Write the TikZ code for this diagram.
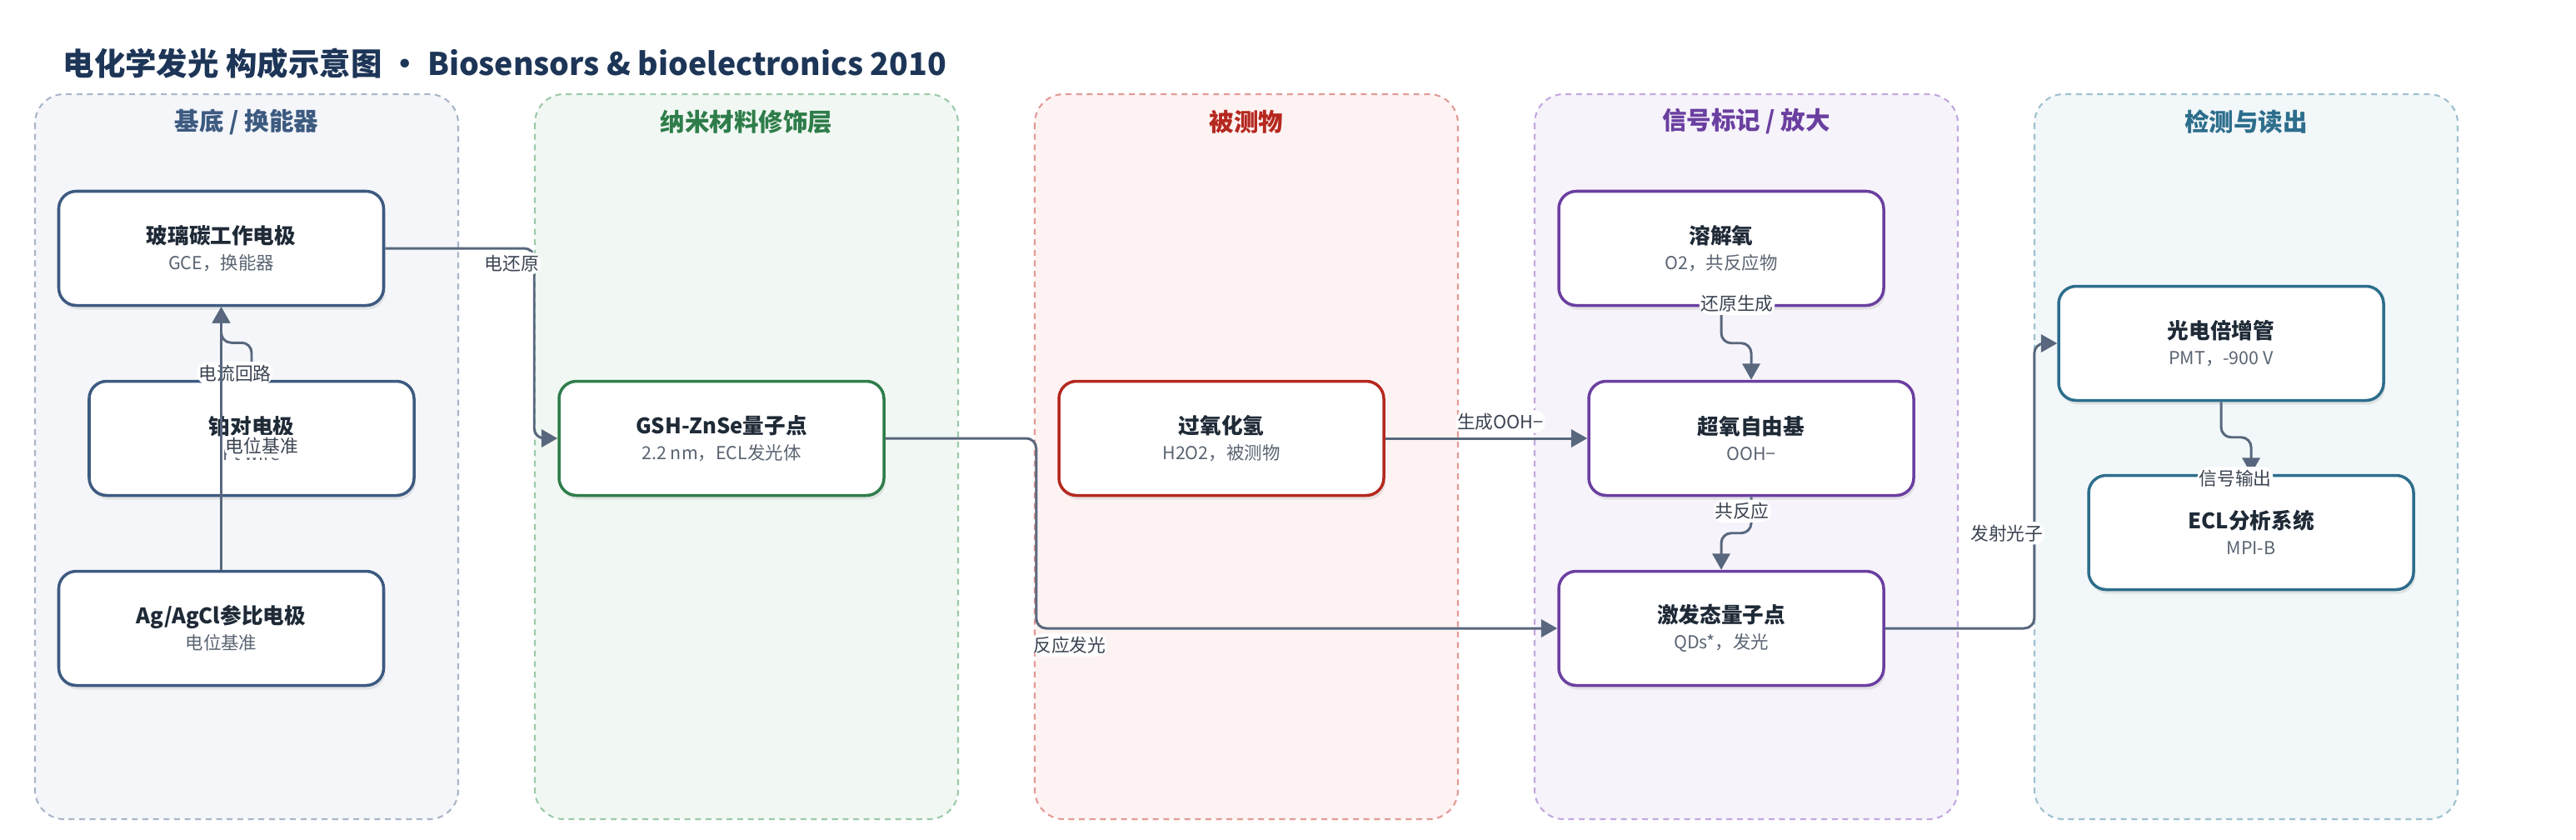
\documentclass[tikz,border=0pt]{standalone}
\usepackage{fontspec}
\setmainfont{Noto Sans CJK SC}
\usetikzlibrary{arrows.meta,shadows}

\definecolor{titleink}{HTML}{1D3557}
\definecolor{nodeink}{HTML}{1F2A37}
\definecolor{subink}{HTML}{5A6472}
\definecolor{labelink}{HTML}{3B4452}
\definecolor{flowgray}{HTML}{58677D}
% lane colours: title / box border / dashed border / fill
\definecolor{inkA}{HTML}{3D5A80}
\definecolor{dashA}{HTML}{A9B6C8}
\definecolor{bgA}{HTML}{F4F6FA}
\definecolor{inkB}{HTML}{2E7D4A}
\definecolor{dashB}{HTML}{9CCAA9}
\definecolor{bgB}{HTML}{F1F8F3}
\definecolor{inkC}{HTML}{B5281F}
\definecolor{dashC}{HTML}{E39A96}
\definecolor{bgC}{HTML}{FDF3F2}
\definecolor{inkD}{HTML}{6B3FA0}
\definecolor{dashD}{HTML}{C3A8DF}
\definecolor{bgD}{HTML}{F6F3FB}
\definecolor{inkE}{HTML}{2D6E8C}
\definecolor{dashE}{HTML}{9FC0CF}
\definecolor{bgE}{HTML}{F2F7F9}

\newcommand{\boxtext}[2]{{\bfseries\color{nodeink}#1}\\{\fontsize{6.1}{8.9}\selectfont\color{subink}#2}}

\begin{document}
\begin{tikzpicture}[
        lane/.style={line width=0.6pt, dash pattern=on 2pt off 1.6pt, rounded corners=0.35cm},
        lanetitle/.style={font=\bfseries\fontsize{8.4}{10}\selectfont, text=#1},
        box/.style={draw=#1, line width=1pt, fill=white, rounded corners=0.21cm,
            minimum width=3.90cm, minimum height=1.37cm, align=center, inner sep=0pt,
            font=\fontsize{7.3}{8.9}\selectfont,
            drop shadow={opacity=0.16, shadow xshift=0.02cm, shadow yshift=-0.05cm}},
        flow/.style={draw=flowgray, line width=0.85pt, rounded corners=0.12cm,
            -{Triangle[length=5.5pt,width=6pt]}},
        elabel/.style={fill=white, inner xsep=0.5pt, inner ysep=1pt, text=labelink,
            font=\fontsize{6.2}{7}\selectfont},
    ]
    \useasboundingbox (0,0) rectangle (30.92,-10.07);

    \node[anchor=west, inner sep=0pt, text=titleink, font=\bfseries\fontsize{10.65}{12}\selectfont] (title) at (0.75,-0.76)
        {电化学发光 构成示意图 · Biosensors \& bioelectronics 2010};

    % lanes
    \draw[lane, draw=dashA, fill=bgA] (0.42,-1.13) rectangle (5.50,-9.83);
    \draw[lane, draw=dashB, fill=bgB] (6.42,-1.13) rectangle (11.50,-9.83);
    \draw[lane, draw=dashC, fill=bgC] (12.42,-1.13) rectangle (17.50,-9.83);
    \draw[lane, draw=dashD, fill=bgD] (18.42,-1.13) rectangle (23.50,-9.83);
    \draw[lane, draw=dashE, fill=bgE] (24.42,-1.13) rectangle (29.50,-9.83);

    \node[lanetitle=inkA] (laneA) at (2.96,-1.46) {基底 / 换能器};
    \node[lanetitle=inkB] (laneB) at (8.96,-1.46) {纳米材料修饰层};
    \node[lanetitle=inkC] (laneC) at (14.96,-1.46) {被测物};
    \node[lanetitle=inkD] (laneD) at (20.96,-1.46) {信号标记 / 放大};
    \node[lanetitle=inkE] (laneE) at (26.96,-1.46) {检测与读出};

    % boxes
    \node[box=inkA] (gce) at (2.655,-2.98) {\boxtext{玻璃碳工作电极}{GCE，换能器}};
    \node[box=inkA] (pt) at (3.02,-5.26) {\boxtext{铂对电极}{Pt wire}};
    \node[box=inkA] (ag) at (2.655,-7.54) {\boxtext{Ag/AgCl参比电极}{电位基准}};
    \node[box=inkB] (gsh) at (8.66,-5.26) {\boxtext{GSH-ZnSe量子点}{2.2 nm，ECL发光体}};
    \node[box=inkC] (h2o2) at (14.66,-5.26) {\boxtext{过氧化氢}{H2O2，被测物}};
    \node[box=inkD] (o2) at (20.66,-2.98) {\boxtext{溶解氧}{O2，共反应物}};
    \node[box=inkD] (sox) at (21.02,-5.26) {\boxtext{超氧自由基}{OOH−}};
    \node[box=inkD] (qd) at (20.66,-7.54) {\boxtext{激发态量子点}{QDs*，发光}};
    \node[box=inkE] (pmt) at (26.66,-4.12) {\boxtext{光电倍增管}{PMT，-900 V}};
    \node[box=inkE] (ecl) at (27.02,-6.39) {\boxtext{ECL分析系统}{MPI-B}};

    % connectors
    \draw[flow] (gce.east) -| node[elabel, pos=0.425, yshift=-0.18cm] {电还原} ([xshift=-0.28cm]gsh.west) -- (gsh.west);
    \draw[flow] (gsh.east) -- ++(1.81,0) |- node[elabel, pos=0.532, yshift=-0.2cm] {反应发光} (qd.west);
    \draw[flow] (h2o2.east) -- node[elabel, pos=0.57, yshift=0.2cm] {生成OOH−} (sox.west);
    \draw[flow] (o2.south) |- node[elabel, pos=0, xshift=0.19cm, yshift=0.04cm] {还原生成} ([yshift=0.44cm]sox.north) -- (sox.north);
    \draw[flow] (sox.south) |- node[elabel, pos=0, xshift=-0.11cm, yshift=-0.17cm] {共反应} ([yshift=0.44cm]qd.north) -- (qd.north);
    \draw[flow] (qd.east) -- ++(1.79,0) |- node[elabel, pos=0.167, xshift=-0.33cm] {发射光子} (pmt.west);
    \draw[flow] (pmt.south) |- ([yshift=0.44cm]ecl.north) -- node[elabel, pos=1, xshift=-0.19cm, yshift=-0.05cm] {信号输出} (ecl.north);
    \draw[flow] (pt.north) |- node[elabel, pos=0, xshift=-0.20cm, yshift=0.08cm] {电流回路} ([yshift=-0.43cm]gce.south) -- (gce.south);
    \draw[flow] (ag.north) -- node[elabel, pos=0.47, anchor=west, xshift=0.02cm] {电位基准} (gce.south);
\end{tikzpicture}
\end{document}
